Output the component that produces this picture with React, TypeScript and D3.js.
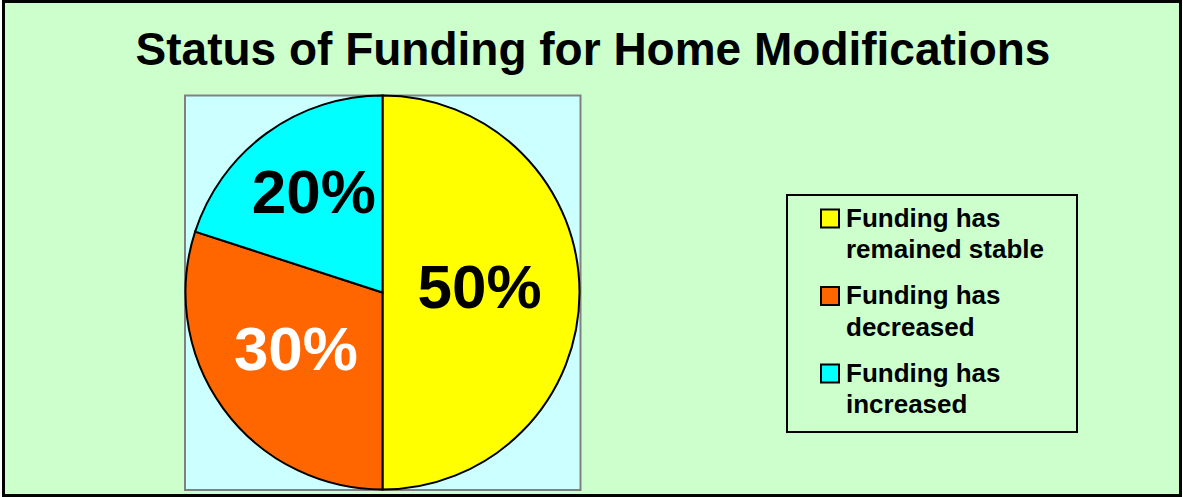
import React from 'react'
import { arc, pie, PieArcDatum } from 'd3'

// chart data
const categories = ['Funding has remained stable', 'Funding has decreased', 'Funding has increased']
const legendLines = [
  ['Funding has', 'remained stable'],
  ['Funding has', 'decreased'],
  ['Funding has', 'increased'],
]
const shares = [50, 30, 20]
const sliceColors = ['#FFFF00', '#FF6600', '#00FFFF']
const labelColors = ['#000000', '#FFFFFF', '#000000']

const W = 1183
const H = 497
const FONT = '"Liberation Sans", Arial, Helvetica, sans-serif'

type Slice = { name: string; value: number; i: number }

const App = () => {
  const cx = 382.5
  const cy = 292.5
  const r = 197

  const rows: Slice[] = categories.map((name, i) => ({ name, value: shares[i], i }))
  const layout = pie<Slice>().sort(null).value((d) => d.value)
  const arcs = layout(rows)
  const sliceArc = arc<PieArcDatum<Slice>>().innerRadius(0).outerRadius(r)
  // label distance from the centre, per slice (as placed in the original)
  const labelR = [97, 107, 117]

  const legendX = 787
  const legendY = 195

  return (
    <svg width={W} height={H} style={{ position: 'fixed', left: 0, top: 0 }} fontFamily={FONT}>
      <rect x={3.5} y={1.5} width={1177} height={494} fill="#CCFFCC" stroke="#000" strokeWidth={3} />
      <text x={593} y={65} textAnchor="middle" fontSize={46} fontWeight="bold" fill="#000">
        Status of Funding for Home Modifications
      </text>

      <rect x={185} y={95.5} width={395.5} height={394.5} fill="#CCFFFF" stroke="#808080" strokeWidth={2} />

      <g transform={`translate(${cx},${cy})`}>
        {arcs.map((d) => (
          <path key={d.data.name} d={sliceArc(d) || ''} fill={sliceColors[d.data.i]} stroke="#000" strokeWidth={2} />
        ))}
        {arcs.map((d) => {
          const lr = labelR[d.data.i]
          const [lx, ly] = arc<PieArcDatum<Slice>>().innerRadius(lr).outerRadius(lr).centroid(d)
          return (
            <text
              key={'l' + d.data.name}
              x={lx}
              y={ly + 15}
              textAnchor="middle"
              fontSize={62}
              fontWeight="bold"
              fill={labelColors[d.data.i]}
            >
              {d.data.value}%
            </text>
          )
        })}
      </g>

      <rect x={legendX} y={legendY} width={290} height={237} fill="none" stroke="#000" strokeWidth={2} />
      {legendLines.map((lines, i) => {
        const base = 226.5 + i * 77.5
        return (
          <g key={categories[i]}>
            <rect x={821} y={base - 17} width={18} height={18} fill={sliceColors[i]} stroke="#000" strokeWidth={2} />
            {lines.map((t, j) => (
              <text key={t} x={846} y={base + j * 31.7} fontSize={26} fontWeight="bold" fill="#000">
                {t}
              </text>
            ))}
          </g>
        )
      })}
    </svg>
  )
}

export default App
